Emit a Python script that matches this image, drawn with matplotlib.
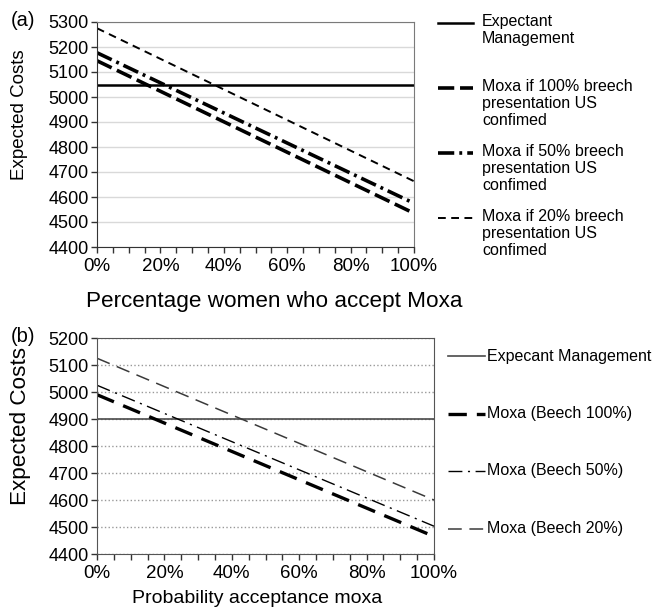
import matplotlib
matplotlib.use("Agg")
import matplotlib.pyplot as plt
from matplotlib.lines import Line2D
from matplotlib.ticker import MultipleLocator, FuncFormatter

# Data (x = % acceptance, y = expected costs)
x_pct = [0, 100]

# panel (a)
a_expectant = [5050, 5050]
a_moxa100 = [5145, 4535]
a_moxa50 = [5177, 4575]
a_moxa20 = [5275, 4663]
a_labels = ["Expectant\nManagement",
            "Moxa if 100% breech\npresentation US\nconfimed",
            "Moxa if 50% breech\npresentation US\nconfimed",
            "Moxa if 20% breech\npresentation US\nconfimed"]

# panel (b)
b_expecant = [4900, 4900]
b_moxa100 = [4990, 4465]
b_moxa50 = [5025, 4503]
b_moxa20 = [5125, 4600]
b_labels = ["Expecant Management", "Moxa (Beech 100%)",
            "Moxa (Beech 50%)", "Moxa (Beech 20%)"]

plt.rcParams['font.family'] = ['Liberation Sans', 'DejaVu Sans']

W, H = 652, 611
fig = plt.figure(figsize=(W / 100, H / 100), dpi=100)


def fx(px):
    return px / W


def fy(py):
    return 1 - py / H


# line styles (color, width, dash pattern)
a_styles = [
    dict(color='black', lw=1.8, ls='-'),
    dict(color='black', lw=2.6, ls=(0, (4.5, 1.6))),
    dict(color='black', lw=2.6, ls=(0, (4.5, 1.4, 0.8, 1.4))),
    dict(color='black', lw=1.4, ls=(0, (4, 2.8))),
]
b_styles = [
    dict(color='#4a4a4a', lw=1.2, ls='-'),
    dict(color='black', lw=2.4, ls=(0, (5.5, 3))),
    dict(color='black', lw=1.0, ls=(0, (10, 4, 1.5, 4))),
    dict(color='#3a3a3a', lw=1.1, ls=(0, (9, 5))),
]


def style_axes(ax, ymin, ymax, grid_ls, grid_color):
    ax.set_xlim(0, 100)
    ax.set_ylim(ymin, ymax)
    ax.yaxis.set_major_locator(MultipleLocator(100))
    ax.xaxis.set_major_locator(MultipleLocator(20))
    ax.xaxis.set_minor_locator(MultipleLocator(5))
    ax.xaxis.set_major_formatter(FuncFormatter(lambda v, p: f"{v:.0f}%"))
    ax.tick_params(axis='both', which='both', direction='out', length=4,
                   width=1, color='#333333')
    ax.tick_params(axis='y', labelsize=13, pad=2)
    ax.tick_params(axis='x', labelsize=13.5, pad=4)
    ax.grid(True, axis='y', ls=grid_ls, color=grid_color, lw=1)
    ax.set_axisbelow(True)


# ---------------- panel (a) ----------------
ax1 = fig.add_axes([fx(97), fy(247), fx(414 - 97), (247 - 22) / H])
style_axes(ax1, 4400, 5300, '-', '#d9d9d9')
a_series = [a_expectant, a_moxa100, a_moxa50, a_moxa20]
for vals, st in zip(a_series, a_styles):
    ax1.plot(x_pct, vals, solid_capstyle='butt', dash_capstyle='butt', **st)
for s in ['top', 'right']:
    ax1.spines[s].set_color('#7a7a7a')
for s in ['left', 'bottom']:
    ax1.spines[s].set_color('#333333')
ax1.set_ylabel("Expected Costs", fontsize=13.5)
ax1.yaxis.set_label_coords(-0.218, 0.587)
ax1.set_xlabel("Percentage women who accept Moxa", fontsize=16.2)
ax1.xaxis.set_label_coords(0.558, -0.195)
fig.text(fx(11), fy(21), "(a)", fontsize=14.5, va='center', ha='left')

# legend (a): handle on the first text line
for i, (lab, st) in enumerate(zip(a_labels, a_styles)):
    yk = 23 + 65 * i
    fig.add_artist(Line2D([fx(438), fx(473)], [fy(yk), fy(yk)],
                          transform=fig.transFigure,
                          dash_capstyle='butt', **st))
    fig.text(fx(482), fy(yk - 9), lab, fontsize=11.5, va='top', ha='left',
             linespacing=1.15)

# ---------------- panel (b) ----------------
ax2 = fig.add_axes([fx(97), fy(554), fx(434 - 97), (554 - 338) / H])
style_axes(ax2, 4400, 5200, ':', '#999999')
b_series = [b_expecant, b_moxa100, b_moxa50, b_moxa20]
for vals, st in zip(b_series, b_styles):
    ax2.plot(x_pct, vals, solid_capstyle='butt', dash_capstyle='butt', **st)
for s in ax2.spines.values():
    s.set_color('#555555')
ax2.set_ylabel("Expected Costs", fontsize=16.2)
ax2.yaxis.set_label_coords(-0.195, 0.595)
ax2.set_xlabel("Probability acceptance moxa", fontsize=14)
ax2.xaxis.set_label_coords(0.475, -0.165)
fig.text(fx(11), fy(336), "(b)", fontsize=14.5, va='center', ha='left')

# legend (b)
for i, (lab, st) in enumerate(zip(b_labels, b_styles)):
    yk = 356 + 57.5 * i
    fig.add_artist(Line2D([fx(448), fx(485)], [fy(yk), fy(yk)],
                          transform=fig.transFigure,
                          dash_capstyle='butt', **st))
    fig.text(fx(487), fy(yk), lab, fontsize=11.5, va='center', ha='left')

fig.savefig("out.png", dpi=100)
